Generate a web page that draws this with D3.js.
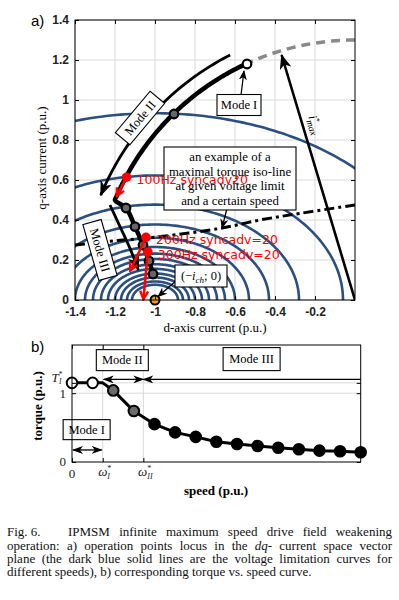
<!DOCTYPE html>
<html>
<head>
<meta charset="utf-8">
<script src="https://cdn.jsdelivr.net/npm/d3@7"></script>
<style>
  body { margin: 0; background: white; }
  svg { display: block; }
</style>
</head>
<body>
<div id="chart"></div>
<script>
// ---- plot a) : dq current plane ----
let dTicks = [-1.4, -1.2, -1, -0.8, -0.6, -0.4, -0.2];
let qTicks = [0, 0.2, 0.4, 0.6, 0.8, 1, 1.2, 1.4];

// voltage limit ellipses: centre (-i_ch, 0), d semi-axis of each one and the d/q ratio
let ellipseCenter = [-1, 0];
let ellipseRatio = 1.51;
let ellipseAxes = [1.41, 0.94, 0.72, 0.57, 0.47, 0.40, 0.35, 0.31, 0.27, 0.235, 0.2, 0.17, 0.14, 0.115];

// current limit circle and the angles (deg) where mode I / mode II end on it
let iMax = 1.3;
let modeIAngle = 114.6;
let modeIIEndAngle = 157.4;

// mode III part of the locus (d, q)
let modeIIILocus = [[-1.2, 0.5], [-1.145, 0.46], [-1.1, 0.367], [-1.06, 0.275], [-1.03, 0.195], [-1.01, 0.13]];
let locusMarkers = [[-0.54, 1.18], [-0.905, 0.93], [-1.145, 0.46], [-1.1, 0.367], [-1.06, 0.275], [-1.03, 0.195], [-1.01, 0.13]];

// maximal torque iso-line
let isoLine = [[-1.4, 0.275], [-1.2, 0.296], [-0.975, 0.317], [-0.675, 0.358], [-0.475, 0.4], [-0.275, 0.433], [0, 0.475]];

// mode arrows beside the locus
let modeIIArrow = {r: 1.375, from: 117, to: 157.6};
let modeIIIArrow = [[-1.225, 0.475], [-1.175, 0.367], [-1.125, 0.258], [-1.083, 0.15]];
let iMaxTip = [-0.367, 1.225];
let chPoint = [-1, 0];

// red operating points, where their arrows point, and their labels
let redPoints = [[-1.142, 0.614], [-1.045, 0.313], [-1.036, 0.24]];
let redTargets = [[-1.192, 0.517], [-1.125, 0.145], [-1.058, 0.002]];
let redLabels = ['100Hz syncadv20', '200Hz syncadv=20', '300Hz syncadv=20'];

// ---- plot b) : torque vs speed ----
let speeds = [0, 1, 2, 3, 4, 5, 6, 7, 8, 9, 10, 11, 12, 13, 14];
let torque = [1.15, 1.15, 1.04, 0.74, 0.55, 0.43, 0.365, 0.295, 0.262, 0.233, 0.208, 0.185, 0.165, 0.156, 0.141];
let omegaI = 1.49, omegaII = 3.46, torqueI = 1.15;
let speedMax = 14, torqueMax = 1.7;

let captionLines = [
  'operation: a) operation points locus in the ',
  'plane (the dark blue solid lines are the voltage limitation curves for',
  'different speeds), b) corresponding torque vs. speed curve.'
];

let serif = '"Liberation Serif", "DejaVu Serif", serif';
let sans = '"Liberation Sans", Arial, sans-serif';
let blue = '#2b4f7e';

let svg = d3.select('#chart')
  .append('svg')
  .attr('width', 399)
  .attr('height', 600)
  .style('background-color', 'white');

let defs = svg.append('defs');

// arrow heads
let marker = function(id, len, wid, color, open, orient) {
  let m = defs.append('marker')
    .attr('id', id)
    .attr('viewBox', `0 0 ${len} ${wid}`)
    .attr('markerWidth', len)
    .attr('markerHeight', wid)
    .attr('refX', len - 1)
    .attr('refY', wid / 2)
    .attr('markerUnits', 'userSpaceOnUse')
    .attr('orient', orient || 'auto');
  if (open) {
    m.append('path')
      .attr('d', `M1.5,1.5 L${len - 1.5},${wid / 2} L1.5,${wid - 1.5}`)
      .attr('fill', 'none')
      .attr('stroke', color)
      .attr('stroke-width', 2.4);
  } else {
    m.append('path')
      .attr('d', `M0,0 L${len},${wid / 2} L0,${wid} L${len * 0.28},${wid / 2} Z`)
      .attr('fill', color);
  }
};
marker('headBig', 15, 12, 'black');
marker('head', 12, 9, 'black');
marker('headSmall', 10, 8, 'black');
marker('headB', 11, 8, 'black', false, 'auto-start-reverse');
marker('headRed', 11, 11, 'red', true);

// ============ plot a ============
let xA = d3.scaleLinear().domain([-1.4, 0]).range([75, 355]);
let yA = d3.scaleLinear().domain([0, 1.4]).range([300, 20]);
let lineA = d3.line().x(p => xA(p[0])).y(p => yA(p[1]));
let smoothA = d3.line().x(p => xA(p[0])).y(p => yA(p[1])).curve(d3.curveCatmullRom);

defs.append('clipPath').attr('id', 'clipA')
  .append('rect')
  .attr('x', 75).attr('y', 20).attr('width', 280).attr('height', 280);

let gA = svg.append('g');

// grid
gA.selectAll('.gx').data(dTicks).enter().append('line')
  .attr('x1', d => xA(d)).attr('x2', d => xA(d))
  .attr('y1', yA(1.4)).attr('y2', yA(0))
  .attr('stroke', '#dadada');
gA.selectAll('.gy').data(qTicks).enter().append('line')
  .attr('x1', xA(-1.4)).attr('x2', xA(0))
  .attr('y1', d => yA(d)).attr('y2', d => yA(d))
  .attr('stroke', '#dadada');

let plotA = gA.append('g').attr('clip-path', 'url(#clipA)');

let arcPoints = function(r, a0, a1) {
  return d3.range(0, 61).map(i => {
    let a = (a0 + (a1 - a0) * i / 60) * Math.PI / 180;
    return [r * Math.cos(a), r * Math.sin(a)];
  });
};
let ellipsePoints = function(a) {
  return d3.range(0, 181).map(i => {
    let t = Math.PI * i / 180;
    return [ellipseCenter[0] + a * Math.cos(t), ellipseCenter[1] + a / ellipseRatio * Math.sin(t)];
  });
};

// voltage limit curves
plotA.selectAll('.ellipse').data(ellipseAxes).enter().append('path')
  .attr('d', d => lineA(ellipsePoints(d)))
  .attr('fill', 'none')
  .attr('stroke', blue)
  .attr('stroke-width', 2.6);

// remaining part of current limit circle (dashed grey)
plotA.append('path')
  .attr('d', lineA(arcPoints(iMax, 90, modeIAngle)))
  .attr('fill', 'none')
  .attr('stroke', '#8a8a8a')
  .attr('stroke-width', 3.5)
  .attr('stroke-dasharray', '9,6');

// maximal torque iso-line
plotA.append('path')
  .attr('d', smoothA(isoLine))
  .attr('fill', 'none')
  .attr('stroke', 'black')
  .attr('stroke-width', 3)
  .attr('stroke-dasharray', '10,4,3,4');

// i_max arrow
plotA.append('path')
  .attr('d', lineA([[0, 0], iMaxTip]))
  .attr('stroke', 'black')
  .attr('stroke-width', 2.6)
  .attr('marker-end', 'url(#headBig)');

// operation point locus: mode II along the current circle, then mode III
let locus = arcPoints(iMax, modeIAngle, modeIIEndAngle).concat(modeIIILocus.slice(1));
plotA.append('path')
  .attr('d', smoothA(locus))
  .attr('fill', 'none')
  .attr('stroke', 'black')
  .attr('stroke-width', 4.5)
  .attr('stroke-linecap', 'round');

// mode II and mode III direction arrows
plotA.append('path')
  .attr('d', lineA(arcPoints(modeIIArrow.r, modeIIArrow.from, modeIIArrow.to)))
  .attr('fill', 'none')
  .attr('stroke', 'black')
  .attr('stroke-width', 2.8)
  .attr('marker-end', 'url(#headBig)');
plotA.append('path')
  .attr('d', smoothA(modeIIIArrow))
  .attr('fill', 'none')
  .attr('stroke', 'black')
  .attr('stroke-width', 2.8)
  .attr('marker-end', 'url(#headBig)');

// markers on the locus
plotA.selectAll('.lm').data(locusMarkers).enter().append('circle')
  .attr('cx', d => xA(d[0]))
  .attr('cy', d => yA(d[1]))
  .attr('r', 4.3)
  .attr('fill', (d, i) => i === 0 ? 'white' : '#666')
  .attr('stroke', 'black')
  .attr('stroke-width', 2.2);

// boxed labels
let box = function(g, cx, cy, w, h, angle, lines, size) {
  let b = g.append('g').attr('transform', `translate(${cx},${cy}) rotate(${angle})`);
  b.append('rect')
    .attr('x', -w / 2).attr('y', -h / 2)
    .attr('width', w).attr('height', h)
    .attr('fill', 'white')
    .attr('stroke', 'black')
    .attr('stroke-width', 1.1);
  let lh = size * 1.13;
  lines.forEach((t, i) => {
    b.append('text')
      .attr('x', 0)
      .attr('y', (i - (lines.length - 1) / 2) * lh + size * 0.34)
      .attr('text-anchor', 'middle')
      .style('font-family', serif)
      .style('font-size', size + 'px')
      .text(t);
  });
  return b;
};

box(gA, xA(-1.075), yA(0.91), 54, 19, -50, ['Mode II'], 12.5);
box(gA, xA(-1.275), yA(0.25), 58, 19, 74, ['Mode III'], 12.5);

// mode I label and its arrow
gA.append('path')
  .attr('d', lineA([[-0.57, 1.025], [-0.555, 1.145]]))
  .attr('stroke', 'black')
  .attr('stroke-width', 1.3)
  .attr('marker-end', 'url(#headSmall)');
box(gA, xA(-0.58), yA(0.975), 44, 21, 0, ['Mode I'], 12.5);

// iso-line annotation
gA.append('path')
  .attr('d', lineA([[-0.642, 0.45], [-0.665, 0.36]]))
  .attr('stroke', 'black')
  .attr('stroke-width', 1.3)
  .attr('marker-end', 'url(#headSmall)');
box(gA, xA(-0.625), yA(0.6075), 132, 63, 0,
  ['an example of a', 'maximal torque iso-line', 'at given voltage limit', 'and a certain speed'], 12.8);

// (-i_ch; 0) annotation
gA.append('path')
  .attr('d', lineA([[-0.89, 0.1], [-0.985, 0.017]]))
  .attr('stroke', 'black')
  .attr('stroke-width', 1.3)
  .attr('marker-end', 'url(#headSmall)');
let chBox = box(gA, xA(-0.77), yA(0.12), 52, 22, 0, [], 12);
let chText = chBox.append('text')
  .attr('x', 0).attr('y', 4)
  .attr('text-anchor', 'middle')
  .style('font-family', serif)
  .style('font-size', '12.5px');
chText.append('tspan').text('(\u2212');
chText.append('tspan').style('font-style', 'italic').text('i');
chText.append('tspan').attr('dy', 3).style('font-size', '9px').style('font-style', 'italic').text('ch');
chText.append('tspan').attr('dy', -3).text('; 0)');

// i*_max label
let imText = gA.append('text')
  .attr('transform', `translate(${xA(-0.22)},${yA(0.87)}) rotate(73)`)
  .attr('text-anchor', 'middle')
  .style('font-family', serif)
  .style('font-size', '12.5px')
  .style('font-style', 'italic');
imText.append('tspan').text('i');
imText.append('tspan').attr('dy', -5).style('font-size', '8px').text('*');
imText.append('tspan').attr('dx', -4).attr('dy', 8).style('font-size', '9.5px').text('max');

// red operating points
gA.selectAll('.redArrow').data(redPoints).enter().append('path')
  .attr('d', (d, i) => lineA([d, redTargets[i]]))
  .attr('stroke', 'red')
  .attr('stroke-width', 2.6)
  .attr('marker-end', 'url(#headRed)');
gA.selectAll('.redPoint').data(redPoints).enter().append('circle')
  .attr('cx', d => xA(d[0]))
  .attr('cy', d => yA(d[1]))
  .attr('r', 4.8)
  .attr('fill', 'red');
gA.selectAll('.redLabel').data(redPoints).enter().append('text')
  .attr('x', d => xA(d[0]) + 10)
  .attr('y', d => yA(d[1]) + 7)
  .attr('fill', 'red')
  .style('font-family', '"DejaVu Sans", sans-serif')
  .style('font-size', '12.5px')
  .text((d, i) => redLabels[i]);

// orange point at (-i_ch, 0)
gA.append('circle')
  .attr('cx', xA(chPoint[0]))
  .attr('cy', yA(chPoint[1]))
  .attr('r', 4.5)
  .attr('fill', '#f5a000')
  .attr('stroke', 'black')
  .attr('stroke-width', 2);

// frame and axes
gA.append('rect')
  .attr('x', 75).attr('y', 20).attr('width', 280).attr('height', 280)
  .attr('fill', 'none').attr('stroke', 'black');

let styleAxis = function(g, font, size, weight) {
  g.select('.domain').remove();
  g.selectAll('.tick line').attr('stroke', 'black');
  g.selectAll('text')
    .style('font-family', font)
    .style('font-size', size)
    .style('font-weight', weight)
    .attr('fill', '#222');
};

gA.append('g').attr('transform', 'translate(0,300)')
  .call(d3.axisBottom(xA).tickValues(dTicks).tickSize(-4).tickPadding(7).tickFormat(d => String(d)))
  .call(g => styleAxis(g, sans, '12px', 'bold'));
gA.append('g').attr('transform', 'translate(75,0)')
  .call(d3.axisLeft(yA).tickValues(qTicks).tickSize(-4).tickPadding(6).tickFormat(d => String(d)))
  .call(g => styleAxis(g, sans, '12px', 'bold'));
gA.append('g').attr('transform', 'translate(0,20)')
  .call(d3.axisTop(xA).tickValues(dTicks).tickSize(-4).tickFormat(''))
  .call(g => styleAxis(g, sans, '12px', 'bold'));
gA.append('g').attr('transform', 'translate(355,0)')
  .call(d3.axisRight(yA).tickValues(qTicks).tickSize(-4).tickFormat(''))
  .call(g => styleAxis(g, sans, '12px', 'bold'));

svg.append('text')
  .attr('x', 215).attr('y', 332)
  .attr('text-anchor', 'middle')
  .style('font-family', serif)
  .style('font-size', '13px')
  .text('d-axis current (p.u.)');
svg.append('text')
  .attr('transform', 'translate(46,158) rotate(-90)')
  .attr('text-anchor', 'middle')
  .style('font-family', serif)
  .style('font-size', '13px')
  .text('q-axis current (p.u.)');
svg.append('text')
  .attr('x', 31).attr('y', 26)
  .style('font-family', sans)
  .style('font-size', '15px')
  .text('a)');

// ============ plot b ============
let xB = d3.scaleLinear().domain([0, speedMax]).range([72, 360.7]);
let yB = d3.scaleLinear().domain([0, torqueMax]).range([462, 345]);
let gB = svg.append('g');

// grid
gB.selectAll('.gx').data([omegaI, omegaII]).enter().append('line')
  .attr('x1', d => xB(d)).attr('x2', d => xB(d))
  .attr('y1', yB(torqueMax)).attr('y2', yB(0))
  .attr('stroke', '#dadada');
gB.selectAll('.gy').data([1, torqueI]).enter().append('line')
  .attr('x1', xB(0)).attr('x2', xB(speedMax))
  .attr('y1', d => yB(d)).attr('y2', d => yB(d))
  .attr('stroke', '#dadada');

// mode arrows
gB.append('path')
  .attr('d', `M${xB(0) + 1},${yB(0.175)} H${xB(omegaI) - 1}`)
  .attr('stroke', 'black').attr('stroke-width', 1.3)
  .attr('marker-start', 'url(#headB)').attr('marker-end', 'url(#headB)');
gB.append('path')
  .attr('d', `M${xB(omegaI) + 1},${yB(1.2)} H${xB(omegaII)}`)
  .attr('stroke', 'black').attr('stroke-width', 1.3)
  .attr('marker-start', 'url(#headB)').attr('marker-end', 'url(#headB)');
gB.append('path')
  .attr('d', `M${xB(omegaII)},${yB(1.2)} H${xB(speedMax)}`)
  .attr('stroke', 'black').attr('stroke-width', 1.3)
  .attr('marker-start', 'url(#headB)');

box(gB, xB(0.71), yB(0.47), 47, 20, 0, ['Mode I'], 12.5);
box(gB, xB(2.44), yB(1.48), 52, 21, 0, ['Mode II'], 12.5);
box(gB, xB(8.71), yB(1.495), 57, 23, 0, ['Mode III'], 12.5);

// torque curve, with the knee at omega_I
let curve = speeds.filter(s => s < omegaI).map((s, i) => [s, torque[i]])
  .concat([[omegaI, torqueI]])
  .concat(speeds.map((s, i) => [s, torque[i]]).filter(p => p[0] > omegaI));
gB.append('path')
  .attr('d', d3.line().x(p => xB(p[0])).y(p => yB(p[1]))(curve))
  .attr('fill', 'none')
  .attr('stroke', 'black')
  .attr('stroke-width', 3)
  .attr('stroke-linejoin', 'round');
gB.selectAll('.tm').data(speeds).enter().append('circle')
  .attr('cx', d => xB(d))
  .attr('cy', (d, i) => yB(torque[i]))
  .attr('r', 5.3)
  .attr('fill', d => d < omegaI ? 'white' : (d < omegaII ? '#6a6a6a' : 'black'))
  .attr('stroke', 'black')
  .attr('stroke-width', 2);

// frame and axes
gB.append('rect')
  .attr('x', xB(0)).attr('y', yB(torqueMax))
  .attr('width', xB(speedMax) - xB(0)).attr('height', yB(0) - yB(torqueMax))
  .attr('fill', 'none').attr('stroke', 'black');
gB.append('g').attr('transform', `translate(0,${yB(0)})`)
  .call(d3.axisBottom(xB).tickValues([0, omegaI, omegaII]).tickSize(-4).tickFormat(''))
  .call(g => styleAxis(g, serif, '12px', 'normal'));
gB.append('g').attr('transform', `translate(0,${yB(torqueMax)})`)
  .call(d3.axisTop(xB).tickValues([0, omegaI, omegaII]).tickSize(-4).tickFormat(''))
  .call(g => styleAxis(g, serif, '12px', 'normal'));
gB.append('g').attr('transform', `translate(${xB(0)},0)`)
  .call(d3.axisLeft(yB).tickValues([0, 1, torqueI]).tickSize(-4).tickFormat(''))
  .call(g => styleAxis(g, serif, '12px', 'normal'));
gB.append('g').attr('transform', `translate(${xB(speedMax)},0)`)
  .call(d3.axisRight(yB).tickValues([0, 1, torqueI]).tickSize(-4).tickFormat(''))
  .call(g => styleAxis(g, serif, '12px', 'normal'));

// tick labels
let tb = function(x, y, anchor) {
  return gB.append('text')
    .attr('x', x).attr('y', y)
    .attr('text-anchor', anchor)
    .style('font-family', serif)
    .style('font-size', '13px')
    .attr('fill', '#222');
};
tb(xB(0), 478, 'middle').text('0');
tb(xB(0) - 6, yB(0) + 4, 'end').text('0');
tb(xB(0) - 6, yB(1) + 5, 'end').text('1');
let tI = tb(xB(0) - 15, yB(torqueI) - 0.5, 'middle');
tI.append('tspan').style('font-style', 'italic').text('T');
tI.append('tspan').attr('dy', -5).style('font-size', '7.5px').text('*');
tI.append('tspan').attr('dx', -3.5).attr('dy', 6.5).style('font-size', '7.5px').style('font-style', 'italic').text('I');
[[omegaI, 'I'], [omegaII, 'II']].forEach(w => {
  let t = tb(xB(w[0]) + 2, 476, 'middle');
  t.append('tspan').style('font-style', 'italic').text('\u03c9');
  t.append('tspan').attr('dy', -5).style('font-size', '8px').text('*');
  t.append('tspan').attr('dx', -4).attr('dy', 8).style('font-size', '8px').style('font-style', 'italic').text(w[1]);
});

svg.append('text')
  .attr('x', 216).attr('y', 495)
  .attr('text-anchor', 'middle')
  .style('font-family', serif)
  .style('font-size', '13px')
  .style('font-weight', 'bold')
  .text('speed (p.u.)');
svg.append('text')
  .attr('transform', 'translate(42,406) rotate(-90)')
  .attr('text-anchor', 'middle')
  .style('font-family', serif)
  .style('font-size', '13px')
  .style('font-weight', 'bold')
  .text('torque (p.u.)');
svg.append('text')
  .attr('x', 31).attr('y', 352)
  .style('font-family', sans)
  .style('font-size', '15px')
  .text('b)');

// ============ caption ============
let cap = svg.append('g').style('font-family', serif).style('font-size', '13px').attr('fill', '#111');
// stretch a line to the column width by spreading its word gaps
let justify = function(t, width) {
  let len = t.node().getComputedTextLength();
  let gaps = (t.text().match(/ /g) || []).length;
  if (gaps) t.attr('word-spacing', (width - len) / gaps);
};
cap.append('text').attr('x', 7).attr('y', 536).text('Fig. 6.');
let l1 = cap.append('text').attr('x', 68).attr('y', 536).text('IPMSM infinite maximum speed drive field weakening');
justify(l1, 324);
let l2 = cap.append('text').attr('x', 7).attr('y', 549.5);
l2.append('tspan').text(captionLines[0]);
l2.append('tspan').style('font-style', 'italic').text('dq');
l2.append('tspan').text('- current space vector');
justify(l2, 385);
let l3 = cap.append('text').attr('x', 7).attr('y', 563).text(captionLines[1]);
justify(l3, 385);
cap.append('text').attr('x', 7).attr('y', 576).text(captionLines[2]);
</script>
</body>
</html>
